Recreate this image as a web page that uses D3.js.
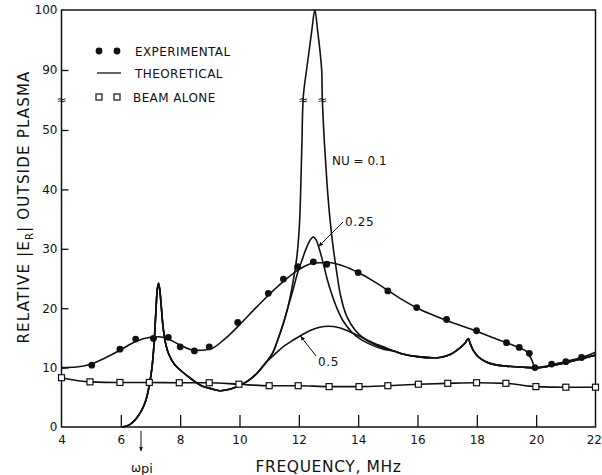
<!DOCTYPE html>
<html lang="en">
<head>
<meta charset="utf-8">
<title>Relative E_R outside plasma</title>
<script src="https://cdn.jsdelivr.net/npm/d3@7"></script>
<style>
	body { margin: 0; background: white; }
	svg { display: block; font-family: "DejaVu Sans", sans-serif; }
	.tick text { font-family: "DejaVu Sans", sans-serif; font-size: 12px; fill: #111; }
	.tick line { stroke: #111; stroke-width: 1.3px; }
	.curve { fill: none; stroke: #111; stroke-width: 1.6px; }
</style>
</head>
<body>
<svg id="chart" width="602" height="475"></svg>
<script>
// axis ticks
var xTicks = [4, 6, 8, 10, 12, 14, 16, 18, 20, 22]
var yTicks = [0, 10, 20, 30, 40, 50, 90, 100]

// measured points, [MHz, relative field]
var experimental = [[5.02,10.4],[5.97,13.1],[6.5,14.8],[7.1,14.9],[7.6,15.1],[8.0,13.5],[8.48,12.8],[8.98,13.5],
	[9.94,17.6],[10.97,22.5],[11.48,24.9],[11.96,27.0],[12.49,27.8],[12.94,27.4],[14.0,26.0],[15.0,22.9],
	[15.97,20.1],[16.98,18.1],[17.99,16.2],[19.0,14.2],[19.43,13.4],[19.77,12.4],[19.96,10.0],[20.52,10.6],
	[21.0,11.0],[21.53,11.7]]

// hand drawn fit through the experimental points
var experimentalFit = [[4,10.0],[4.5,10.1],[5,10.6],[5.5,11.7],[6,13.0],[6.5,14.4],[7,15.1],[7.3,15.2],[7.6,14.8],
	[8,13.8],[8.5,12.9],[9,13.1],[9.5,14.8],[10,17.2],[10.5,19.8],[11,22.3],[11.5,24.6],[12,26.5],[12.5,27.6],
	[13,27.7],[13.5,27.1],[14,26.0],[14.5,24.6],[15,23.0],[15.5,21.4],[16,20.0],[16.5,18.9],[17,17.9],[17.5,17.0],
	[18,16.1],[18.5,15.1],[19,14.2],[19.4,13.4],[19.7,12.6],[19.85,11.3],[19.97,10.0],[20.3,10.2],[20.8,10.8],
	[21.3,11.4],[21.7,12.0],[22,12.6]]

var beamAlone = [[4.0,8.3],[4.96,7.6],[5.97,7.5],[6.96,7.5],[7.97,7.45],[8.98,7.45],[9.98,7.2],[11.0,6.95],
	[11.98,6.95],[13.02,6.8],[14.03,6.8],[15.0,6.95],[16.03,7.2],[17.02,7.35],[17.99,7.45],[18.98,7.35],
	[19.99,6.8],[21.0,6.7],[22.0,6.7]]

// theory, shared low frequency part (same for every NU)
var theoryLeft = [[6.05,0],[6.3,0.4],[6.5,1.3],[6.7,2.8],[6.85,4.6],[6.95,6.8],[7.05,10.0],[7.12,14.0],[7.18,19.3],
	[7.23,23.2],[7.27,24.2],[7.31,23.2],[7.36,20.5],[7.42,17.0],[7.5,14.3],[7.62,12.2],[7.8,10.6],[8.0,9.6],
	[8.4,8.0],[8.7,7.0],[9.0,6.5],[9.34,6.1],[9.7,6.4],[10.0,7.0],[10.3,7.8],[10.6,9.1],[10.9,10.9]]

// theory around the 12.5 MHz resonance, one per NU
var nu01 = [[11.1,12.3],[11.3,14.8],[11.5,17.8],[11.64,20.3],[11.8,24.3],[11.93,28.5],[12.02,34],[12.1,47],
	[12.15,72],[12.26,90],[12.35,93.3],[12.44,96.7],[12.54,100],[12.63,96.7],[12.71,93.3],[12.77,90],[12.79,72],
	[12.86,48],[12.95,41],[13.05,35],[13.15,30.5],[13.25,27],[13.4,22.3],[13.6,18.8],[13.9,16.3],[14.2,14.9],
	[14.5,14.0],[14.85,13.3]]
var nu025 = [[11.1,12.3],[11.3,14.8],[11.5,17.8],[11.64,20.3],[11.8,23],[11.95,25.8],[12.1,28],[12.26,30.2],
	[12.4,31.6],[12.49,32],[12.58,31.5],[12.7,29.8],[12.82,27.6],[12.95,25],[13.1,22.5],[13.3,19.8],[13.5,17.8],
	[13.78,16.0],[14.1,14.7],[14.5,13.7],[14.85,13.1]]
var nu05 = [[11.2,12.3],[11.5,13.6],[11.8,14.6],[12.1,15.5],[12.4,16.3],[12.7,16.8],[13.0,16.95],[13.3,16.8],
	[13.6,16.3],[13.9,15.6],[14.2,14.9],[14.5,14.2],[14.85,13.5]]

// theory, shared high frequency part
var theoryRight = [[15.2,12.8],[15.5,12.3],[16.0,11.85],[16.5,11.65],[16.8,11.75],[17.1,12.2],[17.4,13.2],
	[17.6,14.1],[17.71,14.9],[17.78,14.0],[17.88,12.9],[18.05,11.8],[18.3,11.0],[18.6,10.5],[19.0,10.25],
	[19.5,10.1],[19.9,9.95],[20.3,10.1],[20.8,10.6],[21.3,11.2],[21.7,11.7],[22.0,12.1]]

var svg = d3.select("#chart")

// the y axis is broken between 50 and 90
var x = d3.scaleLinear().domain([4, 22]).range([61.5, 595.5])
var y = d3.scaleLinear().domain([0, 50, 90, 100]).range([427, 130, 70, 10])

var ink = "#111"

// axes, ticks point inward
var xAxis = svg.append("g").attr("transform", "translate(0," + y(0) + ")")
	.call(d3.axisBottom(x).tickValues(xTicks).tickSizeInner(-12).tickSizeOuter(0).tickPadding(8))
xAxis.select(".domain").remove()
xAxis.selectAll(".tick").filter(function(d) { return d == 4 || d == 22 }).select("line").remove()
// last label sits right at the page edge
xAxis.selectAll(".tick").filter(function(d) { return d == 22 }).select("text")
	.attr("text-anchor", "end").attr("x", 6)

var yAxis = svg.append("g").attr("transform", "translate(" + x(4) + ",0)")
	.call(d3.axisLeft(y).tickValues(yTicks).tickSizeInner(-7).tickSizeOuter(0).tickPadding(4))
yAxis.select(".domain").remove()
yAxis.selectAll(".tick").filter(function(d) { return d == 0 || d == 100 }).select("line").remove()

svg.append("rect")
	.attr("x", x(4)).attr("y", y(100))
	.attr("width", x(22) - x(4)).attr("height", y(0) - y(100))
	.attr("fill", "none").attr("stroke", ink).attr("stroke-width", 1.5)

var yBreak = (y(50) + y(90)) / 2
svg.append("text").attr("x", x(4)).attr("y", yBreak + 4)
	.attr("text-anchor", "middle").attr("font-size", 12).attr("fill", ink).text("≈")

// curves
var smooth = d3.line().x(function(d) { return x(d[0]) }).y(function(d) { return y(d[1]) })
	.curve(d3.curveCatmullRom.alpha(0.5))
var mono = d3.line().x(function(d) { return x(d[0]) }).y(function(d) { return y(d[1]) })
	.curve(d3.curveMonotoneX)

svg.append("path").attr("class", "curve").attr("d", mono(beamAlone)).attr("stroke-width", 1.3)
svg.append("path").attr("class", "curve").attr("d", mono(experimentalFit))

;[nu01, nu025, nu05].forEach(function(seg) {
	svg.append("path").attr("class", "curve").attr("d", smooth(theoryLeft.concat(seg, theoryRight)))
})

// break marks on the NU=0.1 peak
;[12.15, 12.79].forEach(function(f) {
	svg.append("text").attr("x", x(f)).attr("y", yBreak + 4)
		.attr("text-anchor", "middle").attr("font-size", 12).attr("fill", ink).text("≈")
})

svg.selectAll(".exp").data(experimental).enter().append("circle")
	.attr("cx", function(d) { return x(d[0]) }).attr("cy", function(d) { return y(d[1]) })
	.attr("r", 3.4).attr("fill", ink)

svg.selectAll(".beam").data(beamAlone).enter().append("rect")
	.attr("x", function(d) { return x(d[0]) - 3 }).attr("y", function(d) { return y(d[1]) - 3 })
	.attr("width", 6).attr("height", 6)
	.attr("fill", "white").attr("stroke", ink).attr("stroke-width", 1.2)

// legend
var legend = svg.append("g").attr("font-size", 12).attr("letter-spacing", 0.4).attr("fill", ink)
;[99, 117].forEach(function(lx) {
	legend.append("circle").attr("cx", lx).attr("cy", 51).attr("r", 3.4)
	legend.append("rect").attr("x", lx - 3).attr("y", 94).attr("width", 6).attr("height", 6)
		.attr("fill", "white").attr("stroke", ink).attr("stroke-width", 1.2)
})
legend.append("line").attr("x1", 97).attr("x2", 121).attr("y1", 73).attr("y2", 73)
	.attr("stroke", ink).attr("stroke-width", 1.3)
legend.append("text").attr("x", 135).attr("y", 55.5).text("EXPERIMENTAL")
legend.append("text").attr("x", 135).attr("y", 78).text("THEORETICAL")
legend.append("text").attr("x", 133).attr("y", 101.5).text("BEAM ALONE")

// NU labels
var notes = svg.append("g").attr("font-size", 12).attr("fill", ink)
notes.append("text").attr("x", 332).attr("y", 164.5).text("NU = 0.1")
notes.append("text").attr("x", 345).attr("y", 226).attr("letter-spacing", 0.6).text("0.25")
notes.append("text").attr("x", 318).attr("y", 366).attr("letter-spacing", 0.6).text("0.5")

svg.append("defs").append("marker").attr("id", "head")
	.attr("viewBox", "0 0 10 10").attr("refX", 9).attr("refY", 5)
	.attr("markerWidth", 5).attr("markerHeight", 5).attr("orient", "auto")
	.append("path").attr("d", "M0,1 L10,5 L0,9 Z").attr("fill", ink)

function pointer(x1, y1, x2, y2) {
	svg.append("line").attr("x1", x1).attr("y1", y1).attr("x2", x2).attr("y2", y2)
		.attr("stroke", ink).attr("stroke-width", 1).attr("marker-end", "url(#head)")
}
pointer(343, 222, x(12.67), y(30.4))
pointer(316, 356, x(12.06), y(15.3))

// omega_pi marker under the axis
var wpi = x(6.68)
pointer(wpi, 431, wpi, 451)
svg.append("text").attr("x", wpi + 1).attr("y", 472).attr("text-anchor", "middle").attr("fill", ink)
	.attr("font-size", 12).text("ω").append("tspan").attr("font-size", 13).attr("dy", 1).text("pi")

// axis titles
svg.append("text").attr("x", x(13)).attr("y", 472)
	.attr("text-anchor", "middle").attr("font-size", 15.5).attr("letter-spacing", 0.6).attr("fill", ink)
	.text("FREQUENCY, MHz")

var yt = svg.append("text").attr("transform", "translate(29,207) rotate(-90)")
	.attr("text-anchor", "middle").attr("font-size", 15).attr("letter-spacing", 1.2).attr("fill", ink)
yt.append("tspan").text("RELATIVE |E")
yt.append("tspan").attr("font-size", 10).attr("dy", 4).text("R")
yt.append("tspan").attr("dy", -4).text("| OUTSIDE PLASMA")
</script>
</body>
</html>
